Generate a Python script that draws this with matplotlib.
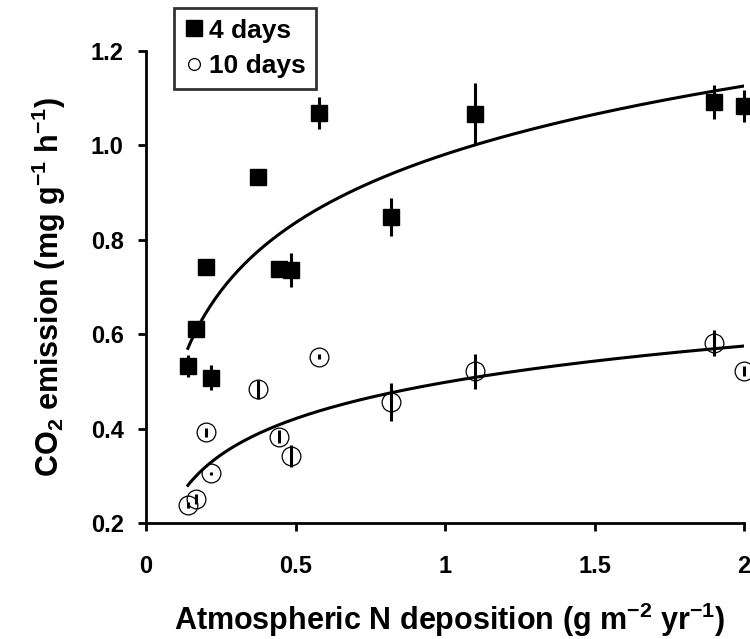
import matplotlib
matplotlib.use("Agg")
import matplotlib.pyplot as plt
from matplotlib.lines import Line2D
import numpy as np

plt.rcParams['font.family'] = ['Liberation Sans', 'DejaVu Sans']
plt.rcParams['font.weight'] = 'bold'
plt.rcParams['mathtext.fontset'] = 'custom'
plt.rcParams['mathtext.rm'] = 'Liberation Sans:bold'
plt.rcParams['mathtext.bf'] = 'Liberation Sans:bold'
plt.rcParams['mathtext.default'] = 'bf'

# N deposition (g m-2 yr-1)
n_dep = [0.14, 0.167, 0.2, 0.217, 0.375, 0.444, 0.486, 0.578, 0.82, 1.1, 1.9, 2.0]

# CO2 emission after 4 days
co2_4d = [0.533, 0.611, 0.743, 0.508, 0.934, 0.738, 0.736, 1.069, 0.848, 1.067, 1.091, 1.083]
err_4d = [0.023, 0.01, 0.01, 0.027, 0.008, 0.012, 0.036, 0.034, 0.04, 0.065, 0.036, 0.034]

# CO2 emission after 10 days
co2_10d = [0.238, 0.251, 0.392, 0.305, 0.483, 0.383, 0.342, 0.552, 0.457, 0.521, 0.581, 0.522]
err_10d = [0.006, 0.01, 0.01, 0.004, 0.02, 0.013, 0.023, 0.005, 0.04, 0.037, 0.028, 0.01]

# log fits y = a + b*ln(x)
fit_4d = (0.981, 0.209)
fit_10d = (0.498, 0.111)

fig = plt.figure(figsize=(7.5, 6.39), dpi=100)
ax = fig.add_axes([146 / 750, 116 / 639, 598 / 750, 472 / 639])

xf = np.linspace(min(n_dep), max(n_dep), 200)
ax.plot(xf, fit_4d[0] + fit_4d[1] * np.log(xf), color='black', lw=2.2, zorder=2)
ax.plot(xf, fit_10d[0] + fit_10d[1] * np.log(xf), color='black', lw=2.2, zorder=2)

ax.errorbar(n_dep, co2_4d, yerr=err_4d, fmt='s', color='black', ms=12,
            elinewidth=2.2, capsize=0, clip_on=False, zorder=3)
ax.errorbar(n_dep, co2_10d, yerr=err_10d, fmt='o', color='black', ms=13.5,
            mfc='none', mec='black', mew=0.9, elinewidth=2.2, capsize=0,
            clip_on=False, zorder=3)

ax.set_xlim(0, 2)
ax.set_ylim(0.2, 1.2)
ax.set_xticks([0, 0.5, 1, 1.5, 2])
ax.set_xticklabels(['0', '0.5', '1', '1.5', '2'])
ax.set_yticks([0.2, 0.4, 0.6, 0.8, 1.0, 1.2])
ax.set_yticklabels(['0.2', '0.4', '0.6', '0.8', '1.0', '1.2'])

for side in ['top', 'right']:
    ax.spines[side].set_visible(False)
for side in ['left', 'bottom']:
    ax.spines[side].set_linewidth(2)
ax.tick_params(direction='out', length=6, width=2, labelsize=17)
ax.tick_params(axis='x', pad=17)
ax.tick_params(axis='y', pad=10)

ax.set_xlabel(r'Atmospheric N deposition (g m$^{-2}$ yr$^{-1}$)', fontsize=22,
              fontweight='bold')
ax.set_ylabel(r'CO$_2$ emission (mg g$^{-1}$ h$^{-1}$)', fontsize=22,
              fontweight='bold')
ax.xaxis.set_label_coords(0.507, -0.165)
ax.yaxis.set_label_coords(-0.13, 0.5)

# legend shows markers only
handles = [Line2D([], [], ls='none', marker='s', ms=12, color='black'),
           Line2D([], [], ls='none', marker='o', ms=8.5, mfc='none', mec='black', mew=0.9)]
leg = fig.legend(handles, ['4 days', '10 days'], loc='upper left',
                 bbox_to_anchor=(174 / 750, 1 - 8 / 639),
                 borderaxespad=0, fancybox=False, edgecolor='black', fontsize=19,
                 handlelength=0.7, handletextpad=0.22, borderpad=0.4, labelspacing=0.45)
leg.get_frame().set_linewidth(2)

fig.savefig('out.png', dpi=100)
